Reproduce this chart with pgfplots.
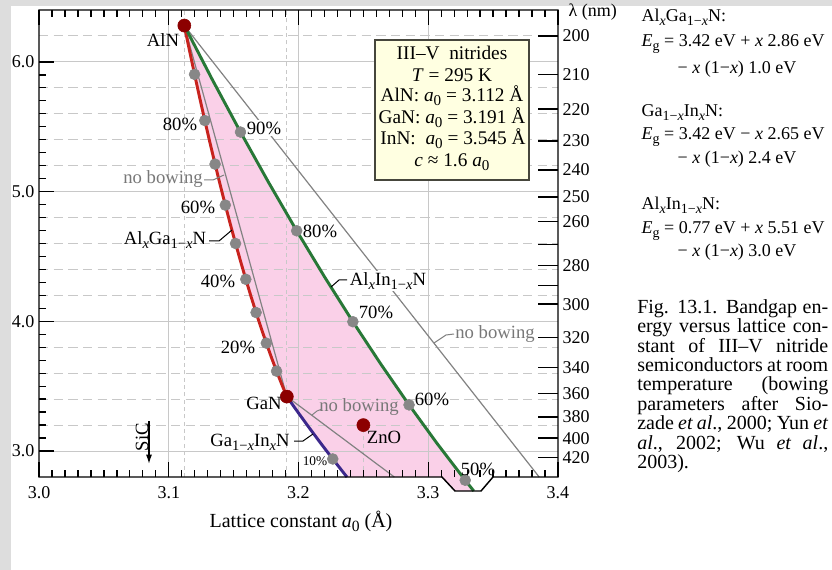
\documentclass[border=0pt]{standalone}
\usepackage{fontspec}
\setmainfont{Liberation Serif}
\usepackage{graphicx}
\usepackage{pgfplots}
\pgfplotsset{compat=1.18}
\usetikzlibrary{arrows.meta}
\definecolor{bgg}{RGB}{221,221,221}
\definecolor{pinkf}{RGB}{250,208,232}
\definecolor{redc}{RGB}{200,35,30}
\definecolor{greenc}{RGB}{40,120,55}
\definecolor{bluec}{RGB}{60,40,140}
\definecolor{dotg}{RGB}{135,135,135}
\definecolor{darkr}{RGB}{140,0,0}
\definecolor{gridc}{RGB}{200,200,200}
\definecolor{boxf}{RGB}{255,255,225}
\definecolor{boxd}{RGB}{70,70,60}
\definecolor{nbg}{RGB}{130,130,130}
\definecolor{txtg}{RGB}{120,120,120}
\newcommand{\ix}{\textit{x}}
\newcommand{\sbs}[1]{\raisebox{-0.45ex}{\scalebox{0.78}{#1}}}
\newcommand{\fs}{\fontsize{13.5}{16}\selectfont}
\newcommand{\fl}{\fontsize{14}{16}\selectfont}
\newcommand{\fb}{\fontsize{14.5}{17}\selectfont}
\newcommand{\fc}{\fontsize{15}{17}\selectfont}
\begin{document}
\begin{tikzpicture}[font=\fs]
\begin{scope}[x=0.75pt,y=-0.75pt]
\fill[white] (0,0) rectangle (832,570);
\fill[bgg] (0,0) rectangle (832,6);
\fill[bgg] (0,0) rectangle (11,570);
\end{scope}
\begin{axis}[at={(29.25pt,-357.75pt)}, anchor=south west, scale only axis,
  width=389.25pt, height=350.25pt,
  xmin=3.0, xmax=3.4, ymin=2.8, ymax=6.4, clip=false,
  axis line style={draw=none}, axis on top,
  xtick={3.0,3.1,3.2,3.3,3.4}, xticklabels={3.0,3.1,3.2,3.3,3.4},
  minor x tick num=9,
  ytick={3,4,5,6}, yticklabels={3.0,4.0,5.0,6.0}, minor y tick num=9,
  ytick pos=left, tick align=inside,
  major tick length=11.25pt, minor tick length=5.25pt,
  tick style={black, line width=1pt},
  xticklabel style={font=\fs, yshift=-3.75pt},
  yticklabel style={font=\fs},
]
% pink region
\addplot[draw=none, fill=pinkf] coordinates {
(3.112,6.28) (3.11595,6.0895) (3.1199,5.904) (3.12385,5.7235) (3.1278,5.548)
(3.13175,5.3775) (3.1357,5.212) (3.13965,5.0515) (3.1436,4.896) (3.14755,4.7455)
(3.1515,4.6) (3.15545,4.4595) (3.1594,4.324) (3.16335,4.1935) (3.1673,4.068)
(3.17125,3.9475) (3.1752,3.832) (3.17915,3.7215) (3.1831,3.616) (3.18705,3.5155)
(3.191,3.42) (3.19985,3.29525) (3.2087,3.1735) (3.21755,3.05475) (3.2264,2.939)
(3.23525,2.82625) (3.23734,2.8) (3.31,2.8) (3.32,2.692) (3.3351,2.692)
(3.3285,2.775) (3.30685,3.058) (3.2852,3.356) (3.26355,3.669) (3.2419,3.997)
(3.22025,4.34) (3.1986,4.698) (3.17695,5.071) (3.1553,5.459) (3.13365,5.862)
(3.112,6.28)} -- cycle;
% grid
\pgfplotsinvokeforeach{3,4,5,6}{\draw[gridc, line width=0.8pt] (axis cs:3.0,#1) -- (axis cs:3.4,#1);}
\pgfplotsinvokeforeach{3.2,3.4,3.6,3.8,4.2,4.4,4.6,4.8,5.2,5.4,5.6,5.8,6.2}{\draw[gridc, line width=0.8pt, dash pattern=on 7pt off 4pt] (axis cs:3.0,#1) -- (axis cs:3.4,#1);}
\pgfplotsinvokeforeach{3.1,3.2,3.3}{\draw[gridc, line width=0.8pt] (axis cs:#1,2.8) -- (axis cs:#1,6.4);}
\pgfplotsinvokeforeach{3.112,3.191}{\draw[gridc, line width=0.8pt, dash pattern=on 3pt off 2.5pt] (axis cs:#1,2.8) -- (axis cs:#1,6.4);}
\draw[gridc, line width=0.8pt, dash pattern=on 3pt off 2.5pt] (axis cs:3.25,2.8) -- (axis cs:3.25,3.2);
% no bowing lines
\addplot[nbg, line width=0.9pt] coordinates {(3.112,6.28) (3.191,3.42)};
\addplot[nbg, line width=0.9pt] coordinates {(3.112,6.28) (3.38548,2.8)};
\addplot[nbg, line width=0.9pt] coordinates {(3.191,3.42) (3.27382,2.8)};
% AlGaN
\addplot[redc, line width=2.2pt] coordinates {
(3.112,6.28) (3.11595,6.0895) (3.1199,5.904) (3.12385,5.7235) (3.1278,5.548)
(3.13175,5.3775) (3.1357,5.212) (3.13965,5.0515) (3.1436,4.896) (3.14755,4.7455)
(3.1515,4.6) (3.15545,4.4595) (3.1594,4.324) (3.16335,4.1935) (3.1673,4.068)
(3.17125,3.9475) (3.1752,3.832) (3.17915,3.7215) (3.1831,3.616) (3.18705,3.5155)
(3.191,3.42)};
% GaInN
\addplot[bluec, line width=2.2pt] coordinates {
(3.191,3.42) (3.19985,3.29525) (3.2087,3.1735) (3.21755,3.05475) (3.2264,2.939)
(3.23525,2.82625) (3.23734,2.8)};
% AlInN
\addplot[greenc, line width=2.2pt] coordinates {
(3.112,6.28) (3.13365,5.862) (3.1553,5.459) (3.17695,5.071) (3.1986,4.698)
(3.22025,4.34) (3.2419,3.997) (3.26355,3.669) (3.2852,3.356) (3.30685,3.058)
(3.3285,2.775) (3.3351,2.692)};
% grey composition dots
\addplot[only marks, mark=*, mark size=4.1pt, dotg, mark options={draw=dotg, fill=dotg}] coordinates {
(3.1831,3.616) (3.1752,3.832) (3.1673,4.068) (3.1594,4.324) (3.1515,4.6)
(3.1436,4.896) (3.1357,5.212) (3.1278,5.548) (3.1199,5.904)
(3.1553,5.459) (3.1986,4.698) (3.2419,3.997) (3.2852,3.356) (3.3285,2.775)
(3.2264,2.939)};
% binaries
\addplot[only marks, mark=*, mark size=4.9pt, darkr, mark options={draw=darkr, fill=darkr}] coordinates {
(3.112,6.28) (3.191,3.42) (3.25,3.2)};
\end{axis}
% right wavelength axis
\begin{axis}[at={(29.25pt,-357.75pt)}, anchor=south west, scale only axis,
  width=389.25pt, height=350.25pt,
  xmin=3.0, xmax=3.4, ymin=2.8, ymax=6.4,
  axis x line=none, axis y line*=right, axis line style={draw=none},
  ytick={6.1992,5.9040,5.6356,5.3906,5.1660,4.9594,4.7686,4.5920,4.4280,4.2753,4.1328,3.8745,3.6466,3.4440,3.2627,3.0996,2.9520},
  yticklabels={200,210,220,230,240,250,260,{},280,{},300,320,340,360,380,400,420},
  tick align=inside, major tick length=15pt,
  tick style={black, line width=1pt},
  yticklabel style={font=\fs},
]
\addplot[draw=none] coordinates {(3.0,3.0)};
\end{axis}
\begin{scope}[x=0.75pt,y=-0.75pt]
% frame with notch
\draw[black, line width=1.1pt] (39,477) -- (39,10) -- (558,10) -- (558,477) -- (493,477) -- (481,491) -- (455,491) -- (442,477) -- cycle;
% labels
\begin{scope}[every node/.style={font=\fl}]
\node at (163,40) {AlN};
\node at (180,124) {80\%};
\node[fill=white, inner sep=1pt] at (264,128) {90\%};
\node[txtg] at (163,179) {no bowing};
\draw[nbg, line width=0.75pt] (204,180) -- (213,180) -- (224,175);
\node at (198,207) {60\%};
\node at (165,240) {Al\sbs{\ix}Ga\sbs{1−\ix}N};
\draw[black, line width=0.75pt] (209,241) -- (219,241) -- (232,230);
\node at (218,281) {40\%};
\node at (238,347) {20\%};
\node at (320,231) {80\%};
\node[fill=white, inner sep=1pt] at (388,281) {Al\sbs{\ix}In\sbs{1−\ix}N};
\draw[black, line width=0.75pt] (347,280) -- (339,280) -- (331,287);
\node at (376,312) {70\%};
\node[txtg] at (495,334) {no bowing};
\draw[nbg, line width=0.75pt] (454,334) -- (446,335) -- (434,343);
\node at (264,403) {GaN};
\node[txtg] at (359,407) {no bowing};
\draw[nbg, line width=0.75pt] (322,409) -- (317,411) -- (312,415);
\node at (250,442) {Ga\sbs{1−\ix}In\sbs{\ix}N};
\draw[black, line width=0.75pt] (294,441) -- (303,441) -- (313,434);
\node at (384,437) {ZnO};
\node at (432,399) {60\%};
\node[font=\fontsize{10}{12}\selectfont] at (315,461) {10\%};
\node at (478,469) {50\%};
\node[rotate=90] at (142,437) {SiC};
\end{scope}
\draw[black, line width=1pt, -{Latex[length=7pt,width=4.5pt]}] (149,421) -- (149,464);
% info box
\draw[fill=boxf, draw=boxd, line width=1pt] (375,40) rectangle (529,180);
\begin{scope}[every node/.style={font=\fb, anchor=base}]
\node at (452,60) {III–V\ \ nitrides};
\node at (452,81.7) {\textit{T} = 295 K};
\node at (452,102) {AlN:\ \textit{a}\sbs{0} = 3.112 Å};
\node at (452,123.3) {GaN:\ \textit{a}\sbs{0} = 3.191 Å};
\node at (453,145) {InN:\ \ \textit{a}\sbs{0} = 3.545 Å};
\node at (452,167) {\textit{c} ≈ 1.6 \textit{a}\sbs{0}};
\end{scope}
% axis titles
\node[anchor=base west] at (564,17) {λ (nm)};
\node[anchor=base, font=\fc] at (301,527) {Lattice constant \textit{a}\sbs{0} (Å)};
% formulas
\node[anchor=base west] at (637,21.7) {Al\sbs{\ix}Ga\sbs{1−\ix}N:};
\node[anchor=base west] at (637,46.7) {\textit{E}\sbs{g} = 3.42 eV + \ix\ 2.86 eV};
\node[anchor=base west] at (673,73.3) {− \ix\ (1−\ix) 1.0 eV};
\node[anchor=base west] at (637,116.7) {Ga\sbs{1−\ix}In\sbs{\ix}N:};
\node[anchor=base west] at (637,140) {\textit{E}\sbs{g} = 3.42 eV − \ix\ 2.65 eV};
\node[anchor=base west] at (673,163.3) {− \ix\ (1−\ix) 2.4 eV};
\node[anchor=base west] at (637,210) {Al\sbs{\ix}In\sbs{1−\ix}N:};
\node[anchor=base west] at (637,233.3) {\textit{E}\sbs{g} = 0.77 eV + \ix\ 5.51 eV};
\node[anchor=base west] at (673,256.7) {− \ix\ (1−\ix) 3.0 eV};
% caption
\begin{scope}[every node/.style={font=\fc, anchor=base west, inner sep=0pt}]
\node at (637,313.3) {\makebox[143.25pt][s]{Fig. 13.1. Bandgap en-}};
\node at (637,332.7) {\makebox[143.25pt][s]{ergy versus lattice con-}};
\node at (637,352.1) {\makebox[143.25pt][s]{stant of III–V nitride}};
\node at (637,371.5) {\makebox[143.25pt][s]{semiconductors at room}};
\node at (637,390.9) {\makebox[143.25pt][s]{temperature (bowing}};
\node at (637,410.3) {\makebox[143.25pt][s]{parameters after Sio-}};
\node at (637,429.7) {\makebox[143.25pt][s]{zade \textit{et al}., 2000; Yun \textit{et}}};
\node at (637,449.1) {\makebox[143.25pt][s]{\textit{al}., 2002; Wu \textit{et al}.,}};
\node at (637,468.5) {2003).};
\end{scope}
\pgfresetboundingbox
\path[use as bounding box] (0,0) rectangle (832,570);
\end{scope}
\end{tikzpicture}
\end{document}
